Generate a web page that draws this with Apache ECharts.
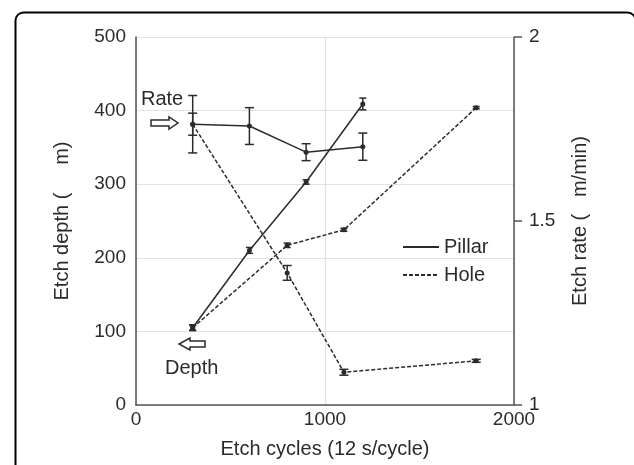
<!DOCTYPE html>
<html><head><meta charset="utf-8">
<script src="https://cdn.jsdelivr.net/npm/echarts@6/dist/echarts.min.js"></script>
<style>html,body{margin:0;padding:0;background:#fff}#c{width:634px;height:465px}</style>
</head><body><div id="c"></div>
<script>
// ---- data ----
const pillarX = [300, 600, 900, 1200];
const pillarDepth = [105, 210, 303, 409];
const pillarDepthErr = [3, 4, 3, 8];
const pillarRate = [1.763, 1.758, 1.687, 1.702];
const pillarRateErr = [0.078, 0.05, 0.023, 0.037];

const holeX = [300, 800, 1100, 1800];
const holeDepth = [105, 217, 238, 404];
const holeDepthErr = [4, 3, 2, 1.5];
const holeRate = [1.763, 1.359, 1.089, 1.12];
const holeRateErr = [0.03, 0.02, 0.008, 0.004];

const xTicks = [0, 1000, 2000];
const depthTicks = [0, 100, 200, 300, 400, 500];
const rateTicks = [1, 1.5, 2];

const INK = '#2b2b2b';
const FONT = 'Liberation Sans, Arial, sans-serif';

function pairs(xs, ys) { return xs.map((x, i) => [x, ys[i]]); }
function errData(xs, ys, es) { return xs.map((x, i) => [x, ys[i], ys[i] - es[i], ys[i] + es[i]]); }

function errRender(cap) {
  return function (params, api) {
    const x = api.value(0);
    const p = api.coord([x, api.value(1)]);
    const lo = api.coord([x, api.value(2)]);
    const hi = api.coord([x, api.value(3)]);
    const st = { stroke: INK, lineWidth: 1.5 };
    return {
      type: 'group',
      children: [
        { type: 'line', shape: { x1: lo[0], y1: lo[1], x2: hi[0], y2: hi[1] }, style: st },
        { type: 'line', shape: { x1: lo[0] - cap, y1: lo[1], x2: lo[0] + cap, y2: lo[1] }, style: st },
        { type: 'line', shape: { x1: hi[0] - cap, y1: hi[1], x2: hi[0] + cap, y2: hi[1] }, style: st },
        { type: 'circle', shape: { cx: p[0], cy: p[1], r: 2.5 }, style: { fill: INK } }
      ]
    };
  };
}

const chart = echarts.init(document.getElementById('c'));
chart.setOption({
  animation: false,
  backgroundColor: '#fff',
  textStyle: { fontFamily: FONT },
  grid: { left: 136, right: 120, top: 37, bottom: 60 },
  legend: {
    data: ['Pillar', 'Hole'],
    orient: 'vertical',
    left: 397, top: 232,
    itemWidth: 36, itemHeight: 14, itemGap: 8,
    itemStyle: { opacity: 0 },
    textStyle: { fontSize: 20, color: INK, fontFamily: FONT },
    inactiveColor: '#ccc'
  },
  xAxis: {
    type: 'value', min: 0, max: 2000, interval: 1000,
    name: 'Etch cycles (12 s/cycle)', nameLocation: 'middle', nameGap: 34,
    nameTextStyle: { fontSize: 20, color: INK, fontFamily: FONT },
    axisLine: { show: true, lineStyle: { color: '#555', width: 1.5 } },
    axisTick: { show: false },
    axisLabel: { fontSize: 19, color: INK, margin: 5, fontFamily: FONT,
      formatter: v => xTicks.includes(v) ? String(v) : '' },
    splitLine: { show: true, lineStyle: { color: '#e2e2e2', width: 1.2 } }
  },
  yAxis: [
    {
      type: 'value', min: 0, max: 500, interval: 100, position: 'left',
      name: 'Etch depth (     m)', nameLocation: 'middle', nameGap: 64, nameRotate: 90,
      nameTextStyle: { fontSize: 20, color: INK, fontFamily: FONT },
      axisLine: { show: true, lineStyle: { color: '#555', width: 1.5 } },
      axisTick: { show: false },
      axisLabel: { fontSize: 19, color: INK, margin: 10, fontFamily: FONT,
        formatter: v => depthTicks.includes(v) ? String(v) : '' },
      splitLine: { show: true, lineStyle: { color: '#e2e2e2', width: 1.2 } }
    },
    {
      type: 'value', min: 1, max: 2, interval: 0.5, position: 'right',
      name: 'Etch rate (   m/min)', nameLocation: 'middle', nameGap: 56, nameRotate: 90,
      nameTextStyle: { fontSize: 20, color: INK, fontFamily: FONT },
      axisLine: { show: true, lineStyle: { color: '#555', width: 1.5 } },
      axisTick: { show: true, length: 8, lineStyle: { color: '#555', width: 1.5 } },
      axisLabel: { fontSize: 19, color: INK, margin: 15, fontFamily: FONT,
        formatter: v => rateTicks.includes(v) ? String(v) : '' },
      splitLine: { show: false }
    }
  ],
  series: [
    { name: 'Pillar', type: 'line', yAxisIndex: 0, data: pairs(pillarX, pillarDepth),
      symbol: 'none', lineStyle: { color: INK, width: 1.5 }, itemStyle: { color: INK } },
    { name: 'Hole', type: 'line', yAxisIndex: 0, data: pairs(holeX, holeDepth),
      symbol: 'none', lineStyle: { color: INK, width: 1.5, type: [4, 2] }, itemStyle: { color: INK } },
    { name: 'Pillar rate', type: 'line', yAxisIndex: 1, data: pairs(pillarX, pillarRate),
      symbol: 'none', lineStyle: { color: INK, width: 1.5 } },
    { name: 'Hole rate', type: 'line', yAxisIndex: 1, data: pairs(holeX, holeRate),
      symbol: 'none', lineStyle: { color: INK, width: 1.5, type: [4, 2] } },
    { name: 'Pillar depth err', type: 'custom', yAxisIndex: 0, renderItem: errRender(3.5),
      data: errData(pillarX, pillarDepth, pillarDepthErr), z: 5 },
    { name: 'Hole depth err', type: 'custom', yAxisIndex: 0, renderItem: errRender(3.5),
      data: errData(holeX, holeDepth, holeDepthErr), z: 5 },
    { name: 'Pillar rate err', type: 'custom', yAxisIndex: 1, renderItem: errRender(4.5),
      data: errData(pillarX, pillarRate, pillarRateErr), z: 5 },
    { name: 'Hole rate err', type: 'custom', yAxisIndex: 1, renderItem: errRender(4.5),
      data: errData(holeX, holeRate, holeRateErr), z: 5 }
  ],
  graphic: [
    { type: 'rect', left: 13, top: 10, z: -1,
      shape: { width: 620, height: 480, r: 8 },
      style: { fill: 'none', stroke: '#000', lineWidth: 2 } },
    { type: 'text', left: 141, top: 89,
      style: { text: 'Rate', fontSize: 20, fill: INK, fontFamily: FONT } },
    { type: 'polygon', shape: { points: [[151, 120], [169, 120], [169, 117], [178, 123], [169, 129], [169, 126], [151, 126]] },
      style: { fill: '#fff', stroke: INK, lineWidth: 1.5 } },
    { type: 'text', left: 165, top: 358,
      style: { text: 'Depth', fontSize: 20, fill: INK, fontFamily: FONT } },
    { type: 'polygon', shape: { points: [[205, 341], [190, 341], [190, 338], [179, 344], [190, 350], [190, 347], [205, 347]] },
      style: { fill: '#fff', stroke: INK, lineWidth: 1.5 } }
  ]
});
</script></body></html>
